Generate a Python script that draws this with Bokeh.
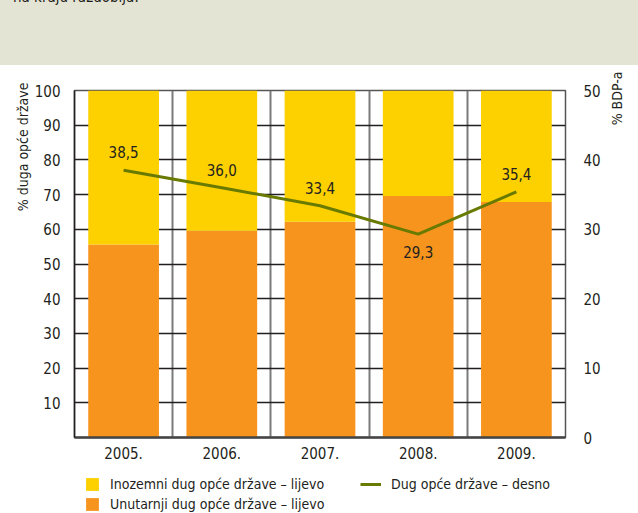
from math import pi
from bokeh.plotting import figure
from bokeh.models import (ColumnDataSource, Range1d, LinearAxis, FixedTicker, Legend,
                          LegendItem, Title, Label, Div, FactorRange)
from bokeh.layouts import column
from bokeh.embed import file_html
from bokeh.resources import INLINE
from bokeh.core.properties import value

# ---- data ----
years = ["2005.", "2006.", "2007.", "2008.", "2009."]
domestic = [55.6, 59.6, 62.2, 69.6, 67.9]      # Unutarnji dug opće države (% duga), left
foreign = [44.4, 40.4, 37.8, 30.4, 32.1]       # Inozemni dug opće države (% duga), left
debt_gdp = [38.5, 36.0, 33.4, 29.3, 35.4]      # Dug opće države (% BDP-a), right
left_ticks = [10, 20, 30, 40, 50, 60, 70, 80, 90, 100]
right_ticks = [0, 10, 20, 30, 40, 50]
series_names = ["Inozemni dug opće države – lijevo",
                "Unutarnji dug opće države – lijevo",
                "Dug opće države – desno"]

FONT = "DejaVu Sans Condensed"
TXT = "#231f20"
YELLOW = "#fdd000"
ORANGE = "#f7941e"
OLIVE = "#697a00"

labels = [f"{v:.1f}".replace(".", ",") for v in debt_gdp]
# label below a local minimum of the line, above otherwise
offs = []
for i, v in enumerate(debt_gdp):
    prev_v = debt_gdp[i - 1] if i > 0 else float("inf")
    next_v = debt_gdp[i + 1] if i < len(debt_gdp) - 1 else float("inf")
    offs.append(18 if (v < prev_v and v < next_v) else -18)

src = ColumnDataSource(dict(year=years, dom=domestic, fo=foreign, gdp=debt_gdp,
                            lbl=labels, yoff=offs))

p = figure(x_range=FactorRange(*years), y_range=Range1d(0, 100),
           width=638, height=405, output_backend="svg", toolbar_location=None,
           min_border_left=74, min_border_right=73, min_border_top=25, min_border_bottom=33,
           background_fill_color="white", border_fill_color="white")
p.extra_y_ranges = {"gdp": Range1d(0, 50)}

# grids
p.ygrid.ticker = FixedTicker(ticks=left_ticks)
p.ygrid.grid_line_color = "#231f20"
p.ygrid.grid_line_width = 1.3
p.xgrid.ticker = FixedTicker(ticks=list(range(1, len(years))))
p.xgrid.grid_line_color = "#7a7a7a"
p.xgrid.grid_line_width = 2

p.outline_line_color = "#555555"
p.outline_line_width = 1.5

# bars
rs = p.vbar_stack(["dom", "fo"], x="year", width=0.72, color=[ORANGE, YELLOW],
                  line_color=None, source=src)

# line
ln = p.line(x="year", y="gdp", y_range_name="gdp", source=src, color=OLIVE, line_width=3)
p.text(x="year", y="gdp", text="lbl", y_offset="yoff", y_range_name="gdp", source=src,
       text_align="center", text_baseline="middle", text_font=value(FONT),
       text_font_size="15px", text_color=TXT)

# axes
p.yaxis.ticker = FixedTicker(ticks=left_ticks)
for ax in [p.xaxis[0], p.yaxis[0]]:
    ax.major_tick_line_color = None
    ax.minor_tick_line_color = None
    ax.major_label_text_font = FONT
    ax.major_label_text_font_size = "15px"
    ax.major_label_text_color = TXT
p.yaxis.axis_line_color = "#231f20"
p.yaxis.axis_line_width = 1.5
p.yaxis.major_label_standoff = 8
p.xaxis.axis_line_color = "#444444"
p.xaxis.axis_line_width = 2.5
p.xaxis.major_label_standoff = 3

rax = LinearAxis(y_range_name="gdp", ticker=FixedTicker(ticks=right_ticks))
rax.axis_line_color = None
rax.major_tick_line_color = None
rax.minor_tick_line_color = None
rax.major_label_text_font = FONT
rax.major_label_text_font_size = "15px"
rax.major_label_text_color = TXT
rax.major_label_standoff = 12
p.add_layout(rax, "right")

# axis titles (top-aligned)
p.add_layout(Title(text="% duga opće države", align="right", offset=-8, standoff=2,
                   text_font=FONT, text_font_size="14px", text_font_style="normal",
                   text_color=TXT), "left")
p.add_layout(Label(x=13, y=366, x_units="screen", y_units="screen", text="% BDP-a",
                   angle=pi / 2, text_align="right", text_baseline="middle",
                   text_font=FONT, text_font_size="14px", text_color=TXT), "right")

# legend in its own strip below the chart (hidden proxy renderers on the same data)
lf = figure(width=638, height=43, x_range=FactorRange(*years), y_range=Range1d(0, 100),
            x_axis_type=None, y_axis_type=None, output_backend="svg", toolbar_location=None,
            min_border=0, outline_line_color=None, background_fill_color="white",
            border_fill_color="white")
lf.xgrid.visible = False
lf.ygrid.visible = False
sw_y = lf.vbar(x="year", top="fo", width=0.72, color=YELLOW, line_color=None, source=src)
sw_o = lf.vbar(x="year", top="dom", width=0.72, color=ORANGE, line_color=None, source=src)
sw_l = lf.line(x="year", y="gdp", color=OLIVE, line_width=3, source=src)
for r in (sw_y, sw_o, sw_l):
    r.visible = False

common = dict(padding=0, margin=0, border_line_color=None, background_fill_alpha=0,
              label_text_font=FONT, label_text_font_size="14px", label_text_color=TXT,
              glyph_height=16, label_height=16, label_standoff=10, spacing=4,
              click_policy="none")
lg1 = Legend(items=[LegendItem(label=series_names[0], renderers=[sw_y]),
                    LegendItem(label=series_names[1], renderers=[sw_o])],
             location=(10, 1), glyph_width=16, **common)
lg2 = Legend(items=[LegendItem(label=series_names[2], renderers=[sw_l])],
             location=(286, 21), glyph_width=21, **common)
lf.add_layout(lg1, "center")
lf.add_layout(lg2, "center")

header = Div(text='<div style="position:relative; top:-12px; left:13px; '
                  'font:15px \'DejaVu Sans Condensed\'; color:#231f20;">na kraju razdoblja.</div>',
             width=638, height=65, margin=0,
             styles={"background-color": "#e4e4d4", "overflow": "hidden"})

layout = column(header, p, lf, spacing=0)
open("out.html", "w").write(file_html(layout, INLINE))
